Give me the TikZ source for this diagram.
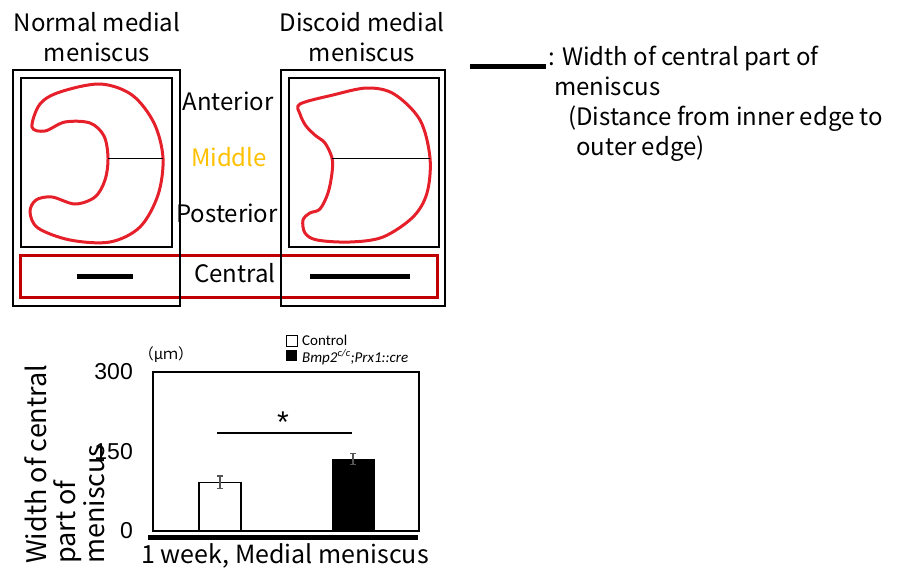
\documentclass[tikz,border=0pt]{standalone}
\usepackage{fontspec}
\setmainfont{Noto Sans CJK JP}
\newfontfamily\arialf{Liberation Sans}
\newfontfamily\calif{Carlito}
\usetikzlibrary{arrows.meta}
\definecolor{mnred}{HTML}{E5202A}
\definecolor{cbred}{HTML}{C00000}
\definecolor{midyel}{HTML}{FFC000}
\definecolor{errgrey}{HTML}{555555}
\tikzset{
  frame/.style   = {draw, line width=2pt},
  rim/.style     = {draw=mnred, line width=3pt, line join=round},
  span/.style    = {line width=1pt},
  widthbar/.style= {line width=5pt},
  lbl/.style     = {font=\fontsize{24}{30}\selectfont, inner sep=0pt, align=center},
  tick/.style    = {font=\arialf\fontsize{23}{24}\selectfont, inner sep=0pt, anchor=east},
  leg/.style     = {font=\calif\fontsize{15}{16}\selectfont, inner sep=0pt, anchor=base west},
  errbar/.style  = {{Bar[width=6pt]}-{Bar[width=6pt]}, draw=errgrey, line width=1.2pt},
}

\begin{document}
\begin{tikzpicture}[x=1pt,y=-1pt]
\useasboundingbox (0,0) rectangle (901,568);
\def\yz{531}      % y of the zero line
\def\ys{0.53}     % pt per micrometre

% -- titles ------------------------------------------------------------------
\node[lbl] (ttlnorm) at (97,37) {Normal medial\\meniscus};
\node[lbl] (ttldisc) at (362,37) {Discoid medial\\meniscus};

% -- panels ------------------------------------------------------------------
\draw[draw=cbred, line width=3pt] (20,255) rectangle (437,297);
\draw[frame] (13,70) rectangle (180,306);
\draw[frame] (21,78) rectangle (172,247);
\draw[frame] (281,70) rectangle (445,306);
\draw[frame] (289,78) rectangle (439,247);

% normal meniscus, C-shaped
\draw[rim] plot[smooth cycle, tension=0.55] coordinates {
  (32,127) (40,104) (60,92) (100,84) (132,95) (154,123) (163,158)
  (158,195) (140,227) (110,242) (70,240) (38,228) (30,212) (36,200)
  (52,197) (75,204) (95,197) (105,180) (108,158) (104,136) (90,123)
  (65,122) (45,131)};
\draw[span] (108,158) -- (163,158);

% discoid meniscus
\draw[rim] plot[smooth cycle, tension=0.55] coordinates {
  (300,104) (333,95) (367,88) (394,94) (420,120) (430,158) (427,193)
  (413,217) (383,237) (350,242) (317,240) (305,233) (303,220) (310,213)
  (320,209) (328,193) (332,173) (332,158) (325,143) (316,136) (306,126)
  (300,114)};
\draw[span] (332,158) -- (430,158);

% -- region labels -----------------------------------------------------------
\node[lbl] (ant)  at (228,101) {Anterior};
\node[lbl, text=midyel] (mid) at (229,157) {Middle};
\node[lbl] (post) at (227,213) {Posterior};
\node[lbl] (cent) at (235,273) {Central};

\draw[widthbar] (77,276) -- (133,276);
\draw[widthbar] (310,276) -- (410,276);

% -- key ---------------------------------------------------------------------
\draw[widthbar] (470,66) -- (546,66);
\node[lbl, anchor=north west, align=left] (keytxt) at (548,46)
  {: Width of central part of\\
   \hspace{6pt}meniscus\\
   \hspace{20pt}(Distance from inner edge to\\
   \hspace{28pt}outer edge)};

% -- chart -------------------------------------------------------------------
\draw[line width=2.5pt] (153,372) rectangle (419,\yz);
\draw[line width=5pt] (148,537) -- (418,537);

\foreach \v/\n in {0/zero,150/mid,300/top}
  \node[tick] (tk\n) at (133,{\yz-\v*\ys}) {\v};

\node[font=\fontsize{15}{17}\selectfont, inner sep=0pt] (unit) at (166,355) {（μｍ）};

\node[lbl, rotate=90, anchor=north west, align=left,
      font=\fontsize{27}{29}\selectfont] (ylab) at (24,564)
  {Width of central\\part of\\meniscus};

% bars: control and mutant
\draw[line width=1.5pt, fill=white] (199,\yz) rectangle (241,{\yz-92*\ys});
\fill (332,\yz) rectangle (375,{\yz-136*\ys});
\draw[errbar] (220,{\yz-79*\ys}) -- (220,{\yz-105*\ys});
\draw[errbar] (353,{\yz-124*\ys}) -- (353,{\yz-148*\ys});

% significance
\draw[line width=2.5pt] (217,433) -- (352,433);
\node[font=\arialf\fontsize{30}{30}\selectfont, inner sep=0pt] (star) at (283,422) {*};

\node[lbl, font=\fontsize{25}{28}\selectfont] (xlab) at (285,556) {1 week, Medial meniscus};

% legend
\draw[line width=1pt] (286,335) rectangle (297,346);
\fill (286,350) rectangle (297,361);
\node[leg] (legctl) at (302,345) {Control};
\node[leg] (legcre) at (302,362) {\itshape Bmp2\textsuperscript{c/c};Prx1::cre};
\end{tikzpicture}
\end{document}
